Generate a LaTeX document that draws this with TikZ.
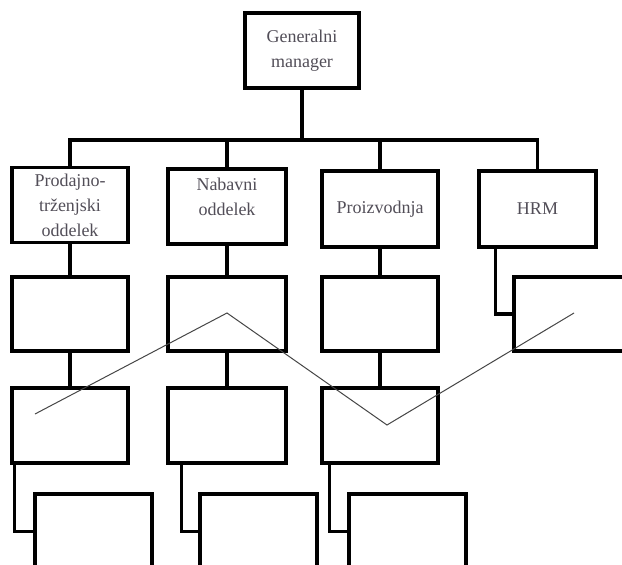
\documentclass[tikz,border=0pt]{standalone}
\usepackage{fontspec}
\setmainfont{Liberation Serif}
\definecolor{txtgray}{RGB}{82,78,88}
\definecolor{zig}{RGB}{70,70,70}
\begin{document}
\begin{tikzpicture}[x=1pt,y=-1pt,
  orgbox/.style={draw=black,fill=white,line width=3.2pt,line join=miter,
    minimum width=116pt,minimum height=75pt,inner sep=0pt,
    font=\fontsize{18}{25}\selectfont,text=txtgray,align=center},
  lbl/.style={font=\fontsize{18}{25}\selectfont,text=txtgray,align=center},
  wire/.style={draw=black,line width=3.2pt,line join=miter},
  thinline/.style={draw=zig,line width=1pt}]
\useasboundingbox (0,0) rectangle (622,565);
\clip (0,0) rectangle (622,565);

% level 0
\node[orgbox,minimum width=114pt] (gm) at (302,50.5) {Generalni\\manager};

% level 1: departments
\node[orgbox] (p1) at (70,205) {Prodajno-\\trženjski\\oddelek};
\node[orgbox,minimum width=118pt] (p2) at (227,206.5) {};
\node[lbl,anchor=north] (p2t) at (227,174) {Nabavni\\oddelek};
\node[orgbox,minimum height=76pt] (p3) at (380,209) {Proizvodnja};
\node[orgbox,minimum width=117pt,minimum height=76pt] (p4) at (537.5,209) {HRM};

% level 2
\node[orgbox,minimum height=74pt] (a1) at (70,314)  {};
\node[orgbox,minimum width=118pt,minimum height=74pt] (a2) at (227,314) {};
\node[orgbox,minimum height=74pt] (a3) at (380,314) {};
\node[orgbox,minimum width=117pt,minimum height=74pt] (h1) at (572.5,314) {};

% level 3
\node[orgbox] (b1) at (70,425.5)  {};
\node[orgbox,minimum width=118pt] (b2) at (227,425.5) {};
\node[orgbox] (b3) at (380,425.5) {};

% level 4
\node[orgbox,minimum width=117pt] (c1) at (93.5,531.5)  {};
\node[orgbox,minimum width=117pt] (c2) at (258.5,531.5) {};
\node[orgbox,minimum width=117pt] (c3) at (407.5,531.5) {};

% horizontal bus under the general manager
\coordinate (bus) at (302,140);
\draw[wire] (gm.south) -- (gm.south|-bus);
\draw[wire] (p1.north) -- (p1.north|-bus) -- (p4.north|-bus) -- (p4.north);
\draw[wire] (p2.north|-bus) -- (p2.north);
\draw[wire] (p3.north|-bus) -- (p3.north);

% vertical stems and elbows
\draw[wire] (p1.south) -- (a1.north);
\draw[wire] (p2.south) -- (a2.north);
\draw[wire] (p3.south) -- (a3.north);
\draw[wire] ([xshift=18pt]p4.south west) |- (h1.west);
\draw[wire] (a1.south) -- (b1.north);
\draw[wire] (a2.south) -- (b2.north);
\draw[wire] (a3.south) -- (b3.north);
\draw[wire] ([xshift=4pt]b1.south west) |- (c1.west);
\draw[wire] ([xshift=15pt]b2.south west) |- (c2.west);
\draw[wire] ([xshift=9pt]b3.south west) |- (c3.west);

% thin zig-zag line across the chart
\coordinate (z0) at (35,414);
\coordinate (z1) at (227,313);
\coordinate (z2) at (387,425);
\coordinate (z3) at (574,313);
\draw[thinline] (z0) -- (z1) -- (z2) -- (z3);
\end{tikzpicture}
\end{document}
